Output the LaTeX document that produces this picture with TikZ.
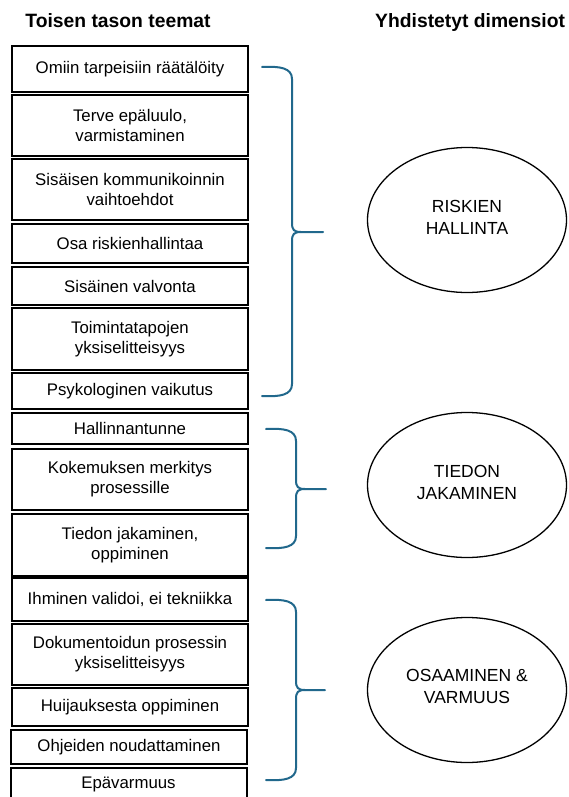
\documentclass[tikz,border=0pt]{standalone}
\usepackage{fontspec}
\setmainfont{Liberation Sans}
\usetikzlibrary{shapes.geometric}
\definecolor{bracecol}{RGB}{33,104,140}

% curly brace: #1 end x, #2 spine x, #3 tip x, #4 top y, #5 tip y, #6 bottom y
\newcommand{\groupbrace}[6]{%
  \draw[brace] (#1,#4) .. controls ({#2-12},{#4-1}) and (#2,{#4+1}) .. (#2,{#4+12})
    -- (#2,{#5-9}) .. controls (#2,{#5-2}) and ({#2+2},#5) .. ({#2+9},#5) -- (#3,#5);
  \draw[brace] ({#2+9},#5) .. controls ({#2+2},#5) and (#2,{#5+2}) .. (#2,{#5+9})
    -- (#2,{#6-12}) .. controls (#2,{#6-1}) and ({#2-12},{#6+1}) .. (#1,#6);
}

\begin{document}
\begin{tikzpicture}[x=1pt,y=-1pt,
  theme/.style={draw=black, line width=2pt, minimum width=236pt, inner sep=2pt,
    align=center, font=\fontsize{16.8}{20}\selectfont},
  dim/.style={draw=black, ellipse, line width=1.3pt, minimum width=199pt,
    minimum height=145pt, inner sep=0pt},
  dimtext/.style={align=center, inner sep=0pt, font=\fontsize{17.5}{22}\selectfont},
  header/.style={font=\fontsize{19.3}{23}\selectfont\bfseries, inner sep=0pt},
  brace/.style={draw=bracecol, line width=2pt, line cap=round}]

\useasboundingbox (0,0) rectangle (569,797);

% column headers
\node[header, anchor=base] (h1) at (118,28) {Toisen tason teemat};
\node[header, anchor=base west] (h2) at (375,28) {Yhdistetyt dimensiot};

% second-level themes
\node[theme, minimum height=46pt] (t1) at (130,69) {Omiin tarpeisiin räätälöity};
\node[theme, minimum height=61pt] (t2) at (130,125.5) {Terve epäluulo,\\varmistaminen};
\node[theme, minimum height=61pt] (t3) at (130,189.5) {Sisäisen kommunikoinnin\\vaihtoehdot};
\node[theme, minimum height=39pt] (t4) at (130,243.5) {Osa riskienhallintaa};
\node[theme, minimum height=38pt] (t5) at (130,286) {Sisäinen valvonta};
\node[theme, minimum height=62pt] (t6) at (130,339) {Toimintatapojen\\yksiselitteisyys};
\node[theme, minimum height=36pt] (t7) at (130,391) {Psykologinen vaikutus};
\node[theme, minimum height=31pt] (t8) at (130,428.5) {Hallinnantunne};
\node[theme, minimum height=61pt] (t9) at (130,479.5) {Kokemuksen merkitys\\prosessille};
\node[theme, minimum height=62pt] (t10) at (130,545) {Tiedon jakaminen,\\oppiminen};
\node[theme, minimum height=43pt] (t11) at (130,599.5) {Ihminen validoi, ei tekniikka};
\node[theme, minimum height=61pt] (t12) at (130,654.5) {Dokumentoidun prosessin\\yksiselitteisyys};
\node[theme, minimum height=38pt] (t13) at (130,707) {Huijauksesta oppiminen};
\node[theme, minimum height=34pt] (t14) at (129,747) {Ohjeiden noudattaminen};
\node[theme, minimum height=32pt] (t15) at (128.5,784) {Epävarmuus};

% grouping braces
\groupbrace{262}{292}{323}{67}{232}{396}
\groupbrace{266}{296}{326}{429}{489}{548}
\groupbrace{266}{296}{325}{600}{690}{780}

% combined dimensions, with their labels set slightly above centre
\node[dim] (d1) at (467,220) {};
\node[dimtext] (d1t) at (467,217) {RISKIEN\\HALLINTA};
\node[dim] (d2) at (467,485) {};
\node[dimtext] (d2t) at (467,482) {TIEDON\\JAKAMINEN};
\node[dim] (d3) at (467,690) {};
\node[dimtext] (d3t) at (467,686) {OSAAMINEN \&\\VARMUUS};
\end{tikzpicture}
\end{document}
